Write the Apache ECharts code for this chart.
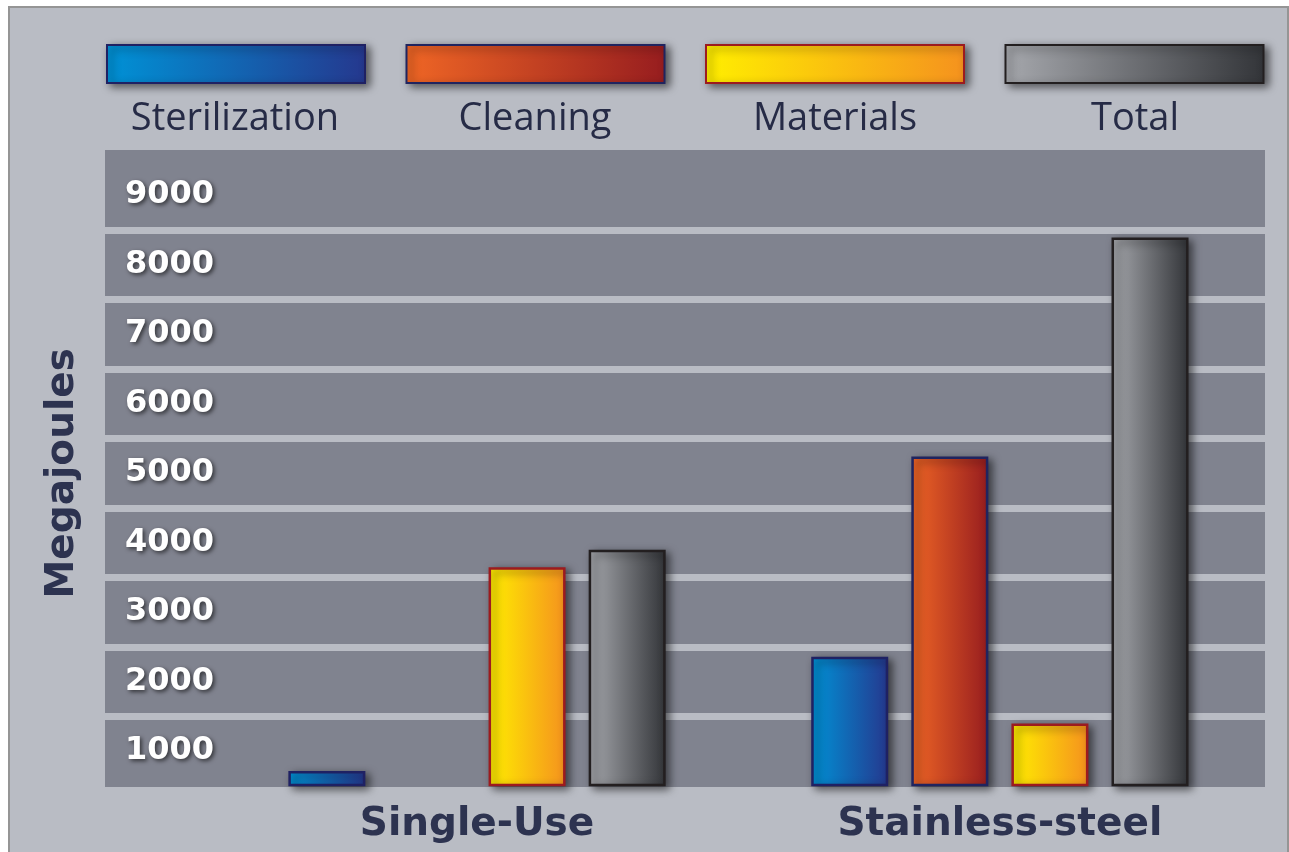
<!DOCTYPE html>
<html>
<head>
<meta charset="utf-8">
<script src="https://cdn.jsdelivr.net/npm/echarts@6/dist/echarts.min.js"></script>
<style>
    html,body{margin:0;padding:0;background:#fff;}
    #chart{width:1289px;height:852px;}
</style>
</head>
<body>
<div id="chart"></div>
<script>
// data
var categories = ['Single-Use', 'Stainless-steel'];
var seriesNames = ['Sterilization', 'Cleaning', 'Materials', 'Total'];
var sterilization = [220, 1860];
var cleaning = [null, 4740];
var materials = [3150, 900];
var total = [3400, 7890];
var yMin = 0;
var yMax = 9000;
var yStep = 1000;

var seriesValues = [sterilization, cleaning, materials, total];

// left -> right gradient colours and border for each series
var fills = [
    ['#0092d6', '#25388e', '#1f2163'],
    ['#ef6625', '#971d1f', '#20245f'],
    ['#ffee00', '#f5921e', '#9c1b1f'],
    ['#a6a8ad', '#333539', '#231f20']
];

function grad(c){
    return new echarts.graphic.LinearGradient(0, 0, 1, 0, [
        {offset: 0, color: c[0]},
        {offset: 1, color: c[1]}
    ]);
}

var chart = echarts.init(document.getElementById('chart'));

var navy = '#2d3350';
var legendLeft = 106, legendW = 258, legendPitch = 300;

var shadow = {
    shadowColor: 'rgba(0,0,0,0.55)',
    shadowBlur: 8,
    shadowOffsetX: 4,
    shadowOffsetY: 3
};

var series = seriesNames.map(function(name, i){
    return {
        name: name,
        type: 'bar',
        xAxisIndex: 1,
        yAxisIndex: 1,
        data: seriesValues[i],
        barWidth: 77,
        barGap: '30%',
        itemStyle: Object.assign({
            color: grad(fills[i]),
            borderColor: fills[i][2],
            borderWidth: 2.5
        }, shadow)
    };
});

var legendTexts = seriesNames.map(function(name, i){
    return {
        type: 'text',
        x: legendLeft + legendW / 2 + i * legendPitch,
        y: 119,
        style: {
            text: name,
            fill: '#262b46',
            font: '38px "Open Sans"',
            textAlign: 'center',
            textVerticalAlign: 'middle',
            align: 'center',
            verticalAlign: 'middle'
        }
    };
});

chart.setOption({
    animation: false,
    backgroundColor: '#fff',
    graphic: [
        {type: 'rect', z: -20, shape: {x: 9, y: 7, width: 1279, height: 860},
            style: {fill: '#b9bcc4', stroke: '#959595', lineWidth: 2}},
        {type: 'rect', z: -10, shape: {x: 105, y: 150, width: 1160, height: 637},
            style: {fill: '#80838f'}}
    ].concat(legendTexts),
    legend: {
        top: 44,
        left: legendLeft,
        padding: 0,
        itemWidth: legendW,
        itemHeight: 38,
        itemGap: 39.5,
        icon: 'rect',
        selectedMode: false,
        itemStyle: shadow,
        formatter: function(){ return ''; },
        data: seriesNames
    },
    grid: [
        {left: 105, right: 24, top: 160.4, bottom: 65.8},
        {left: 215.6, right: 27.7, top: 160.4, bottom: 65.8}
    ],
    xAxis: [
        {type: 'value', gridIndex: 0, show: false},
        {
            type: 'category',
            gridIndex: 1,
            data: categories,
            axisLine: {show: false},
            axisTick: {show: false},
            axisLabel: {
                margin: 19,
                fontSize: 39,
                fontWeight: 'bold',
                fontFamily: 'DejaVu Sans',
                color: navy,
                textShadowColor: '#fff',
                textShadowOffsetY: 2,
                textShadowBlur: 0
            }
        }
    ],
    yAxis: [
        {
            type: 'value',
            gridIndex: 0,
            min: yMin,
            max: yMax,
            interval: yStep,
            axisLine: {show: false},
            axisTick: {show: false},
            splitLine: {
                show: true,
                showMinLine: false,
                showMaxLine: false,
                lineStyle: {color: '#b9bcc4', width: 7}
            },
            axisLabel: {
                inside: true,
                margin: 20,
                showMinLabel: false,
                showMaxLabel: true,
                hideOverlap: false,
                formatter: function(v){ return String(v); },
                fontSize: 32,
                fontWeight: 'bold',
                fontFamily: 'DejaVu Sans',
                color: '#fff',
                verticalAlign: 'top',
                lineHeight: 69,
                textShadowColor: 'rgba(0,0,0,0.6)',
                textShadowBlur: 4,
                textShadowOffsetX: 2,
                textShadowOffsetY: 2
            },
            name: 'Megajoules',
            nameLocation: 'middle',
            nameGap: 23,
            nameRotate: 90,
            nameTextStyle: {
                fontSize: 39,
                fontWeight: 'bold',
                fontFamily: 'DejaVu Sans',
                color: navy
            }
        },
        {type: 'value', gridIndex: 1, min: yMin, max: yMax, show: false}
    ],
    series: series
});
</script>
</body>
</html>
